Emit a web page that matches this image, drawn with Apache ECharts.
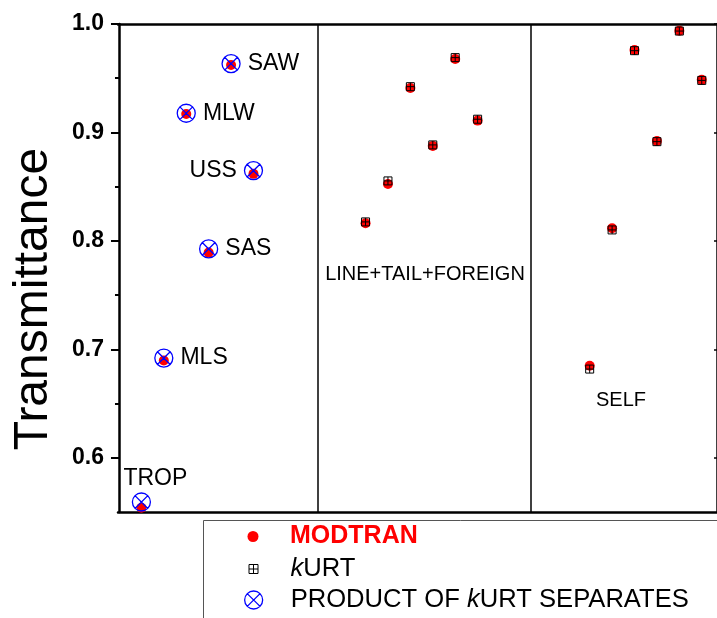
<!DOCTYPE html>
<html>
<head>
<meta charset="utf-8">
<script src="https://cdn.jsdelivr.net/npm/echarts@6/dist/echarts.min.js"></script>
<style>
  html, body { margin: 0; padding: 0; background: #fff; }
  #main { width: 717px; height: 618px; }
</style>
</head>
<body>
<div id="main"></div>
<script>
// six model atmospheres, same order in each panel
var atmospheres = ['TROP', 'MLS', 'MLW', 'SAS', 'SAW', 'USS'];
// x index of the first atmosphere in each panel
var panelStart = [1, 11, 21];
var panelDividers = [8.85, 18.36];

// panel 1: total transmittance
var modtranTotal = [0.554, 0.6897, 0.917, 0.7892, 0.9622, 0.8618];
var productTotal = [0.5592, 0.6919, 0.9177, 0.7926, 0.9634, 0.8648];
// panel 2: line + tail + foreign
var modtranLine = [0.8163, 0.8525, 0.941, 0.8876, 0.9677, 0.9109];
var kurtLine = [0.8175, 0.8553, 0.9422, 0.8885, 0.969, 0.9122];
// panel 3: self continuum
var modtranSelf = [0.6848, 0.8117, 0.976, 0.892, 0.9938, 0.9485];
var kurtSelf = [0.6818, 0.8101, 0.9754, 0.8915, 0.9935, 0.948];

var yTicks = [0.6, 0.7, 0.8, 0.9, 1.0];
var yMinorTicks = [0.65, 0.75, 0.85, 0.95];

var labelSide = { TROP: 'top', USS: 'left' };
var FONT = "Arial, 'Liberation Sans', sans-serif";

var kurtSymbol = 'path://M0,0H8V8H0Z M4,0V8 M0,4H8';
var productSymbol = 'path://M0,10A10,10 0 1,1 20,10A10,10 0 1,1 0,10Z M2.6,2.6L17.4,17.4 M17.4,2.6L2.6,17.4';

function pts(panel, values) {
  return values.map(function (v, i) { return [panelStart[panel] + i, v]; });
}

var chart = echarts.init(document.getElementById('main'), null, { renderer: 'canvas' });

var rich = {
  i: { fontStyle: 'italic', fontSize: 25.6, fontFamily: FONT, color: '#000' }
};

var option = {
  backgroundColor: '#ffffff',
  animation: false,
  grid: { left: 118, top: 24, width: 601, height: 488 },
  xAxis: [{
    type: 'value', min: -0.044, max: 26.68, position: 'bottom',
    axisLine: { show: true, lineStyle: { color: '#000', width: 2.5 } },
    axisTick: { show: false }, axisLabel: { show: false }, splitLine: { show: false }
  }, {
    type: 'value', min: -0.044, max: 26.68, position: 'top',
    axisLine: { show: true, lineStyle: { color: '#000', width: 2.5 } },
    axisTick: { show: false }, axisLabel: { show: false }, splitLine: { show: false }
  }],
  yAxis: [{
    type: 'value', min: 0.55, max: 1.0, position: 'left',
    name: 'Transmittance', nameLocation: 'middle', nameRotate: 90, nameGap: 60,
    nameTextStyle: { fontSize: 48, color: '#000', fontFamily: FONT, padding: [0, 62, 0, 0] },
    axisLine: { show: true, lineStyle: { color: '#000', width: 2.5 } },
    axisTick: { show: true, length: 8, customValues: yTicks, lineStyle: { color: '#000', width: 2 } },
    axisLabel: {
      show: true, customValues: yTicks, margin: 14, fontSize: 23, fontWeight: 'bold',
      color: '#000', fontFamily: FONT,
      formatter: function (v) { return v.toFixed(1); }
    },
    splitLine: { show: false }
  }, {
    type: 'value', min: 0.55, max: 1.0, position: 'left',
    axisLine: { show: false },
    axisTick: { show: true, length: 4, customValues: yMinorTicks, lineStyle: { color: '#000', width: 2 } },
    axisLabel: { show: false }, splitLine: { show: false }
  }, {
    type: 'value', min: 0.55, max: 1.0, position: 'right',
    axisLine: { show: true, lineStyle: { color: '#000', width: 2.5 } },
    axisTick: { show: true, inside: true, length: 3, customValues: yTicks, lineStyle: { color: '#000', width: 1.5 } },
    axisLabel: { show: false }, splitLine: { show: false }
  }],
  legend: [{
    data: ['MODTRAN'], left: 247.5, top: 524, padding: 0,
    itemWidth: 11, itemHeight: 11, selectedMode: false,
    textStyle: { fontSize: 25, fontWeight: 'bold', color: '#ff0000', fontFamily: FONT, lineHeight: 24, padding: [0, 0, 0, 26.5] }
  }, {
    data: ['kURT'], left: 248.5, top: 556, padding: 0,
    itemWidth: 9, itemHeight: 9, selectedMode: false,
    itemStyle: { borderWidth: 1 },
    formatter: function () { return '{i|k}URT'; },
    textStyle: { fontSize: 25.6, color: '#000', fontFamily: FONT, lineHeight: 24, padding: [0, 0, 0, 27.5], rich: rich }
  }, {
    data: ['PRODUCT OF kURT SEPARATES'], left: 244, top: 587, padding: 0,
    itemWidth: 18, itemHeight: 18, selectedMode: false,
    itemStyle: { borderWidth: 1.3 },
    formatter: function () { return 'PRODUCT OF {i|k}URT SEPARATES'; },
    textStyle: { fontSize: 25.6, color: '#000', fontFamily: FONT, lineHeight: 24, padding: [0, 0, 0, 23], rich: rich }
  }],
  graphic: [{
    type: 'rect', z: 1,
    shape: { x: 203.5, y: 520.5, width: 600, height: 200 },
    style: { fill: '#fff', stroke: '#555', lineWidth: 1 }
  }, {
    type: 'text', x: 425, y: 274, z: 5,
    style: { text: 'LINE+TAIL+FOREIGN', fontSize: 20, fontFamily: FONT, fill: '#000', align: 'center', verticalAlign: 'middle' }
  }, {
    type: 'text', x: 621, y: 400, z: 5,
    style: { text: 'SELF', fontSize: 20, fontFamily: FONT, fill: '#000', align: 'center', verticalAlign: 'middle' }
  }],
  series: [{
    name: 'MODTRAN', type: 'scatter', symbol: 'circle', symbolSize: 10,
    itemStyle: { color: '#ff0000', opacity: 1 },
    data: pts(0, modtranTotal).concat(pts(1, modtranLine), pts(2, modtranSelf)),
    markLine: {
      silent: true, symbol: 'none', label: { show: false },
      lineStyle: { color: '#000', width: 1.5, type: 'solid' },
      data: panelDividers.map(function (x) { return { xAxis: x }; })
    }
  }, {
    name: 'kURT', type: 'scatter', symbol: kurtSymbol, symbolSize: 8,
    itemStyle: { color: 'rgba(0,0,0,0)', borderColor: '#000', borderWidth: 1, opacity: 1 },
    data: pts(1, kurtLine).concat(pts(2, kurtSelf))
  }, {
    name: 'PRODUCT OF kURT SEPARATES', type: 'scatter', symbol: productSymbol, symbolSize: 18,
    itemStyle: { color: 'rgba(0,0,0,0)', borderColor: '#0000ff', borderWidth: 1.3, opacity: 1 },
    label: {
      show: true, formatter: '{b}', fontSize: 23, color: '#000', fontFamily: FONT, distance: 7
    },
    data: productTotal.map(function (v, i) {
      var name = atmospheres[i];
      var side = labelSide[name] || 'right';
      return {
        name: name, value: [panelStart[0] + i, v],
        label: side === 'top' ? { position: 'top', distance: 2, offset: [14, 0] } : { position: side }
      };
    })
  }]
};

chart.setOption(option);
</script>
</body>
</html>
